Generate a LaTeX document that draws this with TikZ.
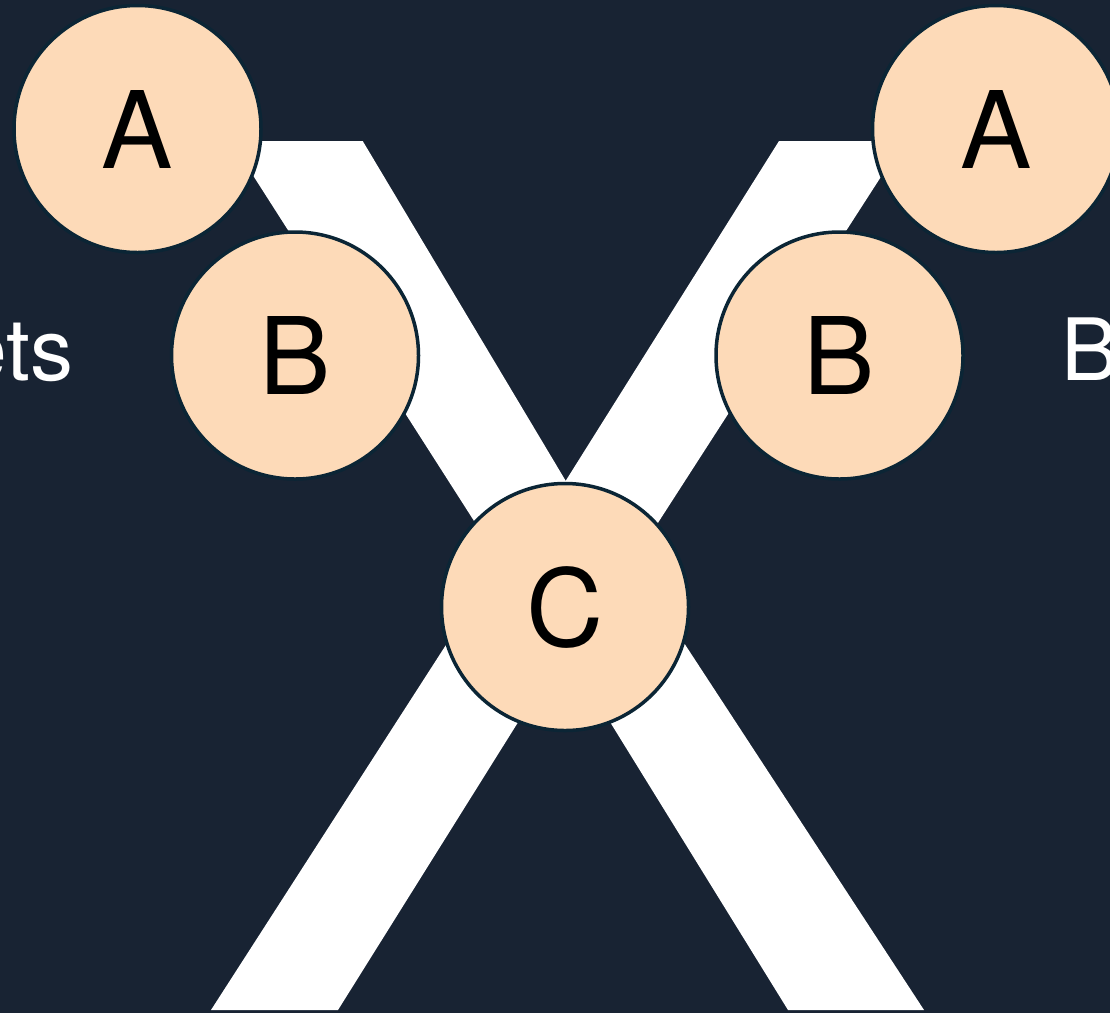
\documentclass[tikz,border=0pt]{standalone}
\usepackage{fontspec}
\setmainfont{TeX Gyre Heros}
\definecolor{bgnavy}{HTML}{182333}
\definecolor{peach}{HTML}{FDDAB8}
\definecolor{ringdark}{HTML}{0B2535}
\begin{document}
\begin{tikzpicture}[x=1pt,y=-1pt,
  ball/.style={circle,fill=peach,draw=ringdark,line width=3.5pt,minimum size=247pt,inner sep=0pt,
    font=\fontsize{107}{107}\selectfont,text=black},
  band/.style={fill=white,draw=none},
  sidelabel/.style={inner sep=0pt,text=white,font=\fontsize{86}{86}\selectfont}]
\useasboundingbox (0,0) rectangle (1110,1013);
\clip (0,0) rectangle (1110,1013);
\fill[bgnavy] (0,0) rectangle (1110,1013);
% white bands of the X
\fill[band] (231,141) -- (362.7,141) -- (613,560) -- (499,560) -- cycle;
\fill[band] (779,141) -- (904,141) -- (634,560) -- (516,560) -- cycle;
\fill[band] (462,620) -- (582,620) -- (338,1010) -- (211,1010) -- cycle;
\fill[band] (547,620) -- (669,620) -- (924,1010) -- (788,1010) -- cycle;
% circles
\node[ball] (A1) at (137.5,129) {A};
\node[ball] (B1) at (295,355.5) {B};
\node[ball] (A2) at (996,129) {A};
\node[ball] (B2) at (839.5,355.5) {B};
\node[ball] (C) at (565,607) {C};
% side labels
\node[sidelabel,anchor=base east] (lblL) at (74,380) {ets};
\node[sidelabel,anchor=base west] (lblR) at (1061,380) {B};
\end{tikzpicture}
\end{document}
